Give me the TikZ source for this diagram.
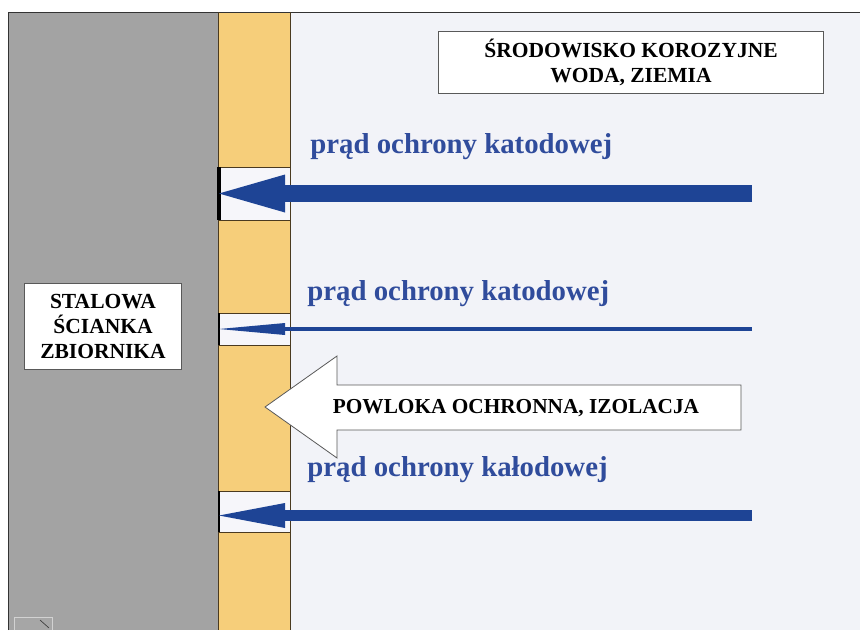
\documentclass[tikz,border=0pt]{standalone}
\usepackage{fontspec}
\setmainfont{Liberation Serif}
\usetikzlibrary{arrows.meta}
\definecolor{steelgray}{HTML}{A3A3A3}
\definecolor{coating}{HTML}{F6CE7A}
\definecolor{edgebrown}{HTML}{4A3A20}
\definecolor{bgblue}{HTML}{F2F3F8}
\definecolor{gapwhite}{HTML}{F6F6FA}
\definecolor{arrowblue}{HTML}{1E4495}
\definecolor{textblue}{HTML}{304C9C}
\begin{document}
\begin{tikzpicture}[x=1pt,y=-1pt,thick,
  label box/.style={draw=black!65,fill=white,line width=0.8pt,align=center,inner sep=0pt,font=\bfseries\fontsize{21.5}{25}\selectfont},
  current text/.style={anchor=base west,inner sep=0pt,text=textblue,font=\bfseries\fontsize{28.8}{34}\selectfont},
  gap box/.style={draw=edgebrown,line width=0.8pt,fill=gapwhite},
  cathode/.style={draw=arrowblue,line cap=butt}]

                    \useasboundingbox (0,0) rectangle (860,630);
                    \fill[white] (0,0) rectangle (860,630);
                    \fill[bgblue] (290,12) rectangle (860,630);
                    \fill[steelgray] (8,12) rectangle (218,630);
                    \fill[coating] (218,12) rectangle (290,630);
                    \draw[line width=0.8pt,black!80] (8,630) -- (8,12) -- (860,12);
                    \draw[line width=1pt,edgebrown] (218,12) -- (218,630) (290,12) -- (290,630);
                    \fill[gray!70] (14,617) rectangle (52,630);
                    \draw[gray!35,line width=0.6pt] (14,630) -- (14,617) -- (52,617) -- (52,630);
                    \draw[gray!40!black,line width=0.6pt] (40,620) -- (49,628);

                    \draw[gap box] (218,167) rectangle (290,220);
                    \draw[gap box] (218,313) rectangle (290,345);
                    \draw[gap box] (218,491) rectangle (290,532);
                    \draw[line width=3.5pt] (219,167) -- (219,220);
                    \draw[line width=2pt] (219,313) -- (219,345);
                    \draw[line width=2pt] (219,491) -- (219,532);

                    \coordinate (s1) at (752,193.5);
                    \coordinate (w1) at (219,193.5);
                    \coordinate (s2) at (752,329);
                    \coordinate (w2) at (219,329);
                    \coordinate (s3) at (752,515.5);
                    \coordinate (w3) at (219,515.5);

                    \path (s1) edge[cathode,line width=17pt,-{Triangle[length=66pt,width=38pt,line width=0pt]}] (w1);
                    \path (s2) edge[cathode,line width=4.5pt,-{Triangle[length=66pt,width=12pt,line width=0pt]}] (w2);
                    \path (s3) edge[cathode,line width=11pt,-{Triangle[length=66pt,width=25pt,line width=0pt]}] (w3);

                    \draw[draw=gray!70!black,fill=white,line width=0.8pt] (265,407) -- (337,356) -- (337,385) -- (741,385) -- (741,430) -- (337,430) -- (337,458) -- cycle;
                    \node[font=\bfseries\fontsize{21.3}{25}\selectfont,inner sep=0pt] at (516,408) (coat) {POWLOKA OCHRONNA, IZOLACJA};

                    \node[label box,minimum width=385pt,minimum height=62pt] at (631,62) (env) {ŚRODOWISKO KOROZYJNE\\WODA, ZIEMIA};
                    \node[label box,minimum width=157pt,minimum height=86pt] at (103,326) (wall) {STALOWA\\ŚCIANKA\\ZBIORNIKA};

                    \node[current text] at (310,153) (lbl1) {prąd ochrony katodowej};
                    \node[current text] at (307,300) (lbl2) {prąd ochrony katodowej};
                    \node[current text] at (307,476) (lbl3) {prąd ochrony kałodowej};
                \end{tikzpicture}
\end{document}
